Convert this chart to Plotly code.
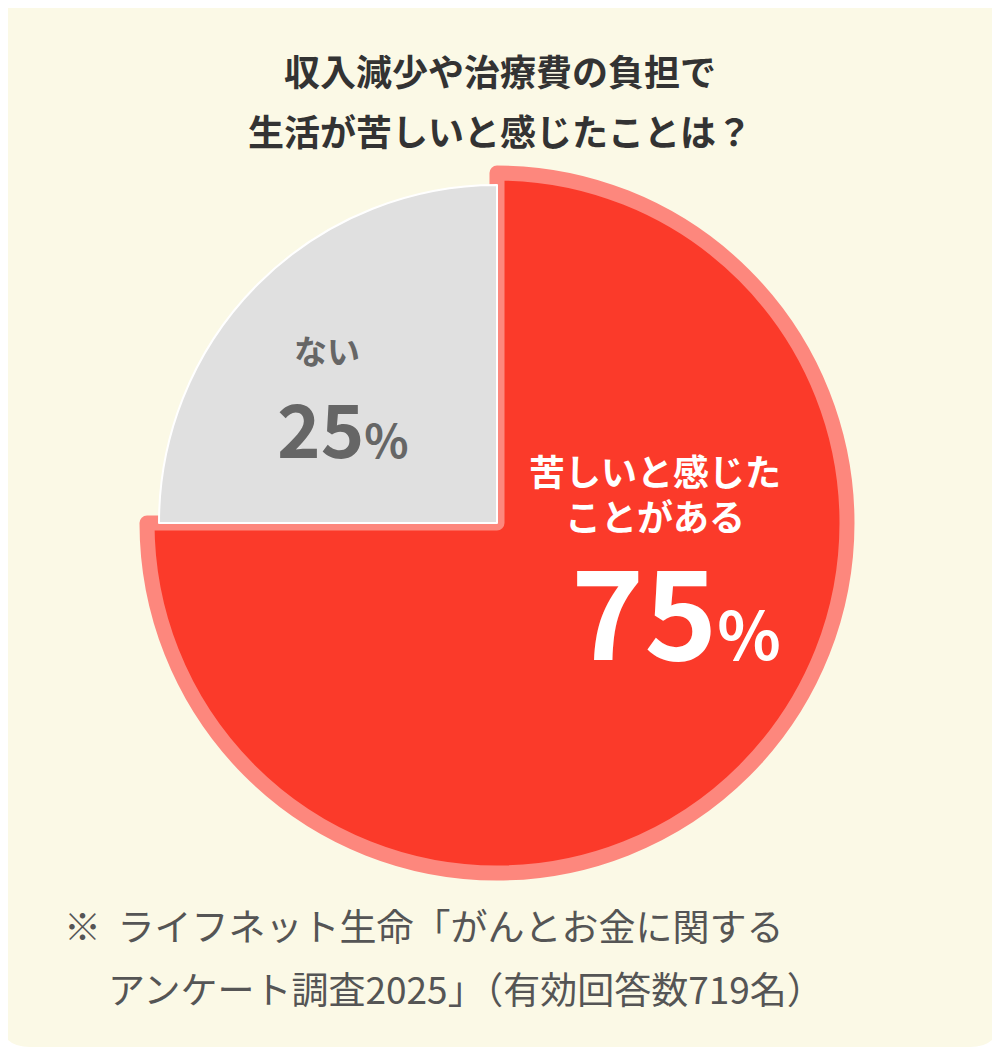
import plotly.graph_objects as go

labels = ["苦しいと感じたことがある", "ない"]
values = [75, 25]
title_lines = ["収入減少や治療費の負担で", "生活が苦しいと感じたことは？"]
note_lines = ["※  ライフネット生命「がんとお金に関する", "アンケート調査2025」（有効回答数719名）"]

W, H = 1000, 1047
OFF = 8
cx, cy = 497 - OFF, 523 - OFF
def dom(r):
    return dict(x=[(cx - r) / W, (cx + r) / W], y=[(H - cy - r) / H, (H - cy + r) / H])

fig = go.Figure()
fig.add_trace(go.Pie(labels=labels, values=values, sort=False, direction="clockwise", rotation=0,
                     domain=dom(350), textinfo="none", hoverinfo="skip", showlegend=False,
                     marker=dict(colors=["#FB3A2A", "rgba(0,0,0,0)"],
                                 line=dict(color=["#FD877D", "rgba(0,0,0,0)"], width=[15, 0]))))
fig.add_trace(go.Pie(labels=labels, values=values, sort=False, direction="clockwise", rotation=0,
                     domain=dom(338), textinfo="none", hoverinfo="skip", showlegend=False,
                     marker=dict(colors=["rgba(0,0,0,0)", "#E0E0E0"],
                                 line=dict(color=["rgba(0,0,0,0)", "#FFFFFF"], width=[0, 2]))))

font = "Noto Sans CJK JP"
r = 30
path = (f"M {r},0 L {W-r},0 Q {W},0 {W},{r} L {W},{H-r} Q {W},{H} {W-r},{H} "
        f"L {r},{H} Q 0,{H} 0,{H-r} L 0,{r} Q 0,0 {r},0 Z")
fig.add_shape(type="path", path=path, xref="x", yref="y", fillcolor="#FBF9E6",
              line=dict(width=0), layer="below")

def ann(x, y, text, size, color, bold=True, xanchor="center"):
    fig.add_annotation(x=x, y=y, xref="x", yref="y", text=(f"<b>{text}</b>" if bold else text),
                       showarrow=False, xanchor=xanchor, yanchor="middle",
                       font=dict(family=font, size=size, color=color))

ann(500, 70, title_lines[0], 36, "#333333")
ann(500, 130, title_lines[1], 36, "#333333")
ann(327, 350, labels[1], 33, "#666666")
ann(343, 425, "25<span style='font-size:46px'>%</span>", 74, "#666666")
ann(655, 470, "苦しいと感じた", 36, "#FFFFFF")
ann(655, 515, "ことがある", 36, "#FFFFFF")
ann(676, 606, "75<span style='font-size:66px'>%</span>", 124, "#FFFFFF")
ann(62, 925, note_lines[0], 37, "#555555", bold=False, xanchor="left")
ann(106, 988, note_lines[1], 37, "#555555", bold=False, xanchor="left")

fig.update_layout(width=W, height=H, margin=dict(l=0, r=0, t=0, b=0),
                  paper_bgcolor="#FFFFFF", plot_bgcolor="rgba(0,0,0,0)",
                  xaxis=dict(range=[OFF, W + OFF], visible=False, fixedrange=True),
                  yaxis=dict(range=[H + OFF, OFF], visible=False, fixedrange=True),
                  showlegend=False)
fig.write_html("out.html")
